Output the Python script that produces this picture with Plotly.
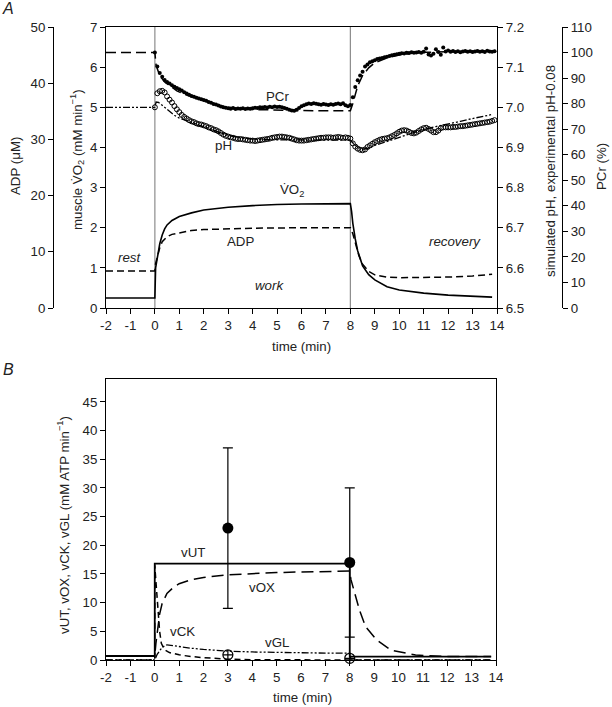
import plotly.graph_objects as go

# ---------------- Panel A data ----------------
# experimental PCr (%) and pH (experimental pH-0.08), sampled every 0.1 min from 0 to 13.9
t_exp = [round(0.1 * i, 1) for i in range(140)]
pcr_exp = [100, 94.5, 92.0, 90.5, 89.3, 88.5, 87.9, 87.2, 86.6, 86.1,
           85.6, 85.1, 84.5, 84.0, 83.5, 83.0, 82.7, 82.3, 82.0, 81.7,
           81.4, 81.1, 80.6, 80.3, 79.9, 79.7, 79.3, 78.9, 78.6, 78.4,
           78.2, 78.0, 78.3, 77.9, 78.1, 78.0, 78.2, 77.9, 78.1, 78.0,
           78.2, 78.4, 78.3, 78.6, 78.5, 78.7, 78.5, 78.8, 78.6, 78.9,
           78.7, 78.8, 78.6, 78.3, 78.0, 77.6, 77.3, 77.2, 77.6, 78.3,
           79.0, 79.4, 79.8, 80.1, 79.9, 80.2, 80.0, 79.8, 79.6, 79.9,
           79.7, 79.5, 79.8, 79.6, 79.9, 80.1, 79.8, 80.2, 79.4, 79.0,
           79.5, 82.5, 86.5, 89.2, 91.0, 92.5, 94.5, 95.3, 96.2, 96.6,
           97.0, 97.5, 97.7, 97.9, 98.2, 98.4, 98.6, 98.9, 99.1, 99.3,
           99.5, 99.7, 99.6, 99.9, 99.8, 100.1, 99.9, 100.0, 100.2, 99.9,
           100.3, 101.6, 99.2, 98.8, 99.5, 101.3, 100.2, 99.1, 102.0, 100.4,
           100.8, 100.3, 100.6, 100.2, 100.5, 100.1, 100.4, 100.6, 100.3, 100.5,
           100.2, 100.4, 100.6, 100.3, 100.5, 100.2, 100.7, 100.4, 100.3, 100.5]
ph_exp = [7.000, 7.035, 7.040, 7.041, 7.037, 7.027, 7.019, 7.012, 7.003, 6.995,
          6.988, 6.981, 6.976, 6.972, 6.968, 6.965, 6.963, 6.960, 6.958, 6.957,
          6.955, 6.953, 6.950, 6.948, 6.945, 6.943, 6.940, 6.936, 6.932, 6.929,
          6.927, 6.925, 6.924, 6.922, 6.921, 6.921, 6.920, 6.919, 6.918, 6.917,
          6.917, 6.916, 6.917, 6.918, 6.919, 6.920, 6.921, 6.922, 6.924, 6.925,
          6.926, 6.927, 6.927, 6.926, 6.925, 6.924, 6.922, 6.920, 6.918, 6.917,
          6.917, 6.917, 6.918, 6.919, 6.920, 6.921, 6.922, 6.923, 6.924, 6.924,
          6.925, 6.925, 6.925, 6.924, 6.925, 6.926, 6.925, 6.924, 6.925, 6.924,
          6.922, 6.910, 6.902, 6.897, 6.894, 6.893, 6.895, 6.901, 6.905, 6.909,
          6.913, 6.916, 6.919, 6.921, 6.922, 6.923, 6.925, 6.928, 6.931, 6.935,
          6.939, 6.942, 6.943, 6.942, 6.939, 6.936, 6.935, 6.937, 6.941, 6.945,
          6.948, 6.949, 6.946, 6.942, 6.938, 6.938, 6.942, 6.948, 6.950, 6.950,
          6.950, 6.950, 6.951, 6.951, 6.952, 6.953, 6.953, 6.954, 6.955, 6.956,
          6.957, 6.958, 6.959, 6.960, 6.961, 6.962, 6.963, 6.964, 6.966, 6.968]

# simulated curves
vo2_t = [-2, 0, 0.03, 0.1, 0.2, 0.3, 0.4, 0.5, 0.7, 1, 1.5, 2, 3, 4, 5, 6, 7, 8,
         8.05, 8.1, 8.2, 8.3, 8.5, 8.75, 9, 9.5, 10, 11, 12, 13, 13.8]
vo2_v = [0.25, 0.25, 1.0, 1.3, 1.6, 1.82, 1.97, 2.07, 2.18, 2.28, 2.37, 2.44, 2.51, 2.55, 2.58, 2.59, 2.6, 2.6,
         2.4, 2.11, 1.72, 1.42, 1.05, 0.83, 0.70, 0.53, 0.45, 0.37, 0.32, 0.29, 0.27]
adp_t = [-2, 0, 0.03, 0.1, 0.2, 0.3, 0.5, 0.7, 1, 1.5, 2, 3, 4, 5, 6, 7, 8,
         8.1, 8.2, 8.35, 8.5, 8.75, 9, 9.5, 10, 11, 12, 13, 13.8]
adp_v = [6.6, 6.6, 7.9, 9.3, 10.7, 11.8, 12.7, 13.1, 13.4, 13.8, 13.95, 14.1, 14.2, 14.25, 14.3, 14.3, 14.3,
         13.2, 11.8, 9.3, 7.8, 6.5, 5.9, 5.5, 5.4, 5.4, 5.5, 5.7, 6.0]
pcr_t = [-2, 0, 0.05, 0.2, 0.4, 0.6, 0.9, 1.2, 1.5, 2, 2.5, 3, 3.5, 4, 5, 6, 7, 8,
         8.1, 8.2, 8.3, 8.5, 8.75, 9, 9.5, 10, 10.5, 11, 12, 13, 13.9]
pcr_v = [100, 100, 95, 91, 88.5, 87, 85, 83.7, 82.7, 81, 79.6, 78.6, 78, 77.7, 77.4, 77.3, 77.2, 77.2,
         80, 84, 87, 91, 94, 96, 97.9, 99, 99.7, 100.1, 100.4, 100.5, 100.5]
ph_t = [-2, 0, 0.05, 0.15, 0.3, 0.5, 0.8, 1, 1.5, 2, 2.5, 3, 3.5, 4, 5, 6, 7, 8,
        8.2, 8.5, 8.75, 9, 9.5, 10, 10.5, 11, 11.5, 12, 12.5, 13, 13.8]
ph_v = [7.0, 7.0, 7.013, 7.012, 7.005, 6.995, 6.98, 6.973, 6.962, 6.952, 6.94, 6.93, 6.924, 6.921, 6.919,
        6.918, 6.918, 6.918, 6.905, 6.895, 6.898, 6.905, 6.915, 6.925, 6.935, 6.945, 6.952, 6.958, 6.965,
        6.972, 6.982]
phase_bounds = [0, 8]

# ---------------- Panel B data ----------------
vut_t = [-2, 0, 0, 8, 8, 13.8]
vut_v = [0.7, 0.7, 16.8, 16.8, 0.6, 0.6]
vox_t = [-2, 0, 0.05, 0.1, 0.2, 0.3, 0.5, 0.75, 1, 1.5, 2, 3, 4, 5, 6, 7, 8,
         8.05, 8.2, 8.4, 8.65, 9.1, 9.7, 10.7, 12, 13.8]
vox_v = [0.7, 0.7, 3, 5, 8, 9.8, 11.6, 12.6, 13.3, 14.0, 14.4, 14.85, 15.1, 15.25, 15.35, 15.45, 15.5,
         14, 11.7, 8.7, 5.8, 3.5, 1.7, 0.87, 0.6, 0.6]
vck_t = [-2, 0, 0, 0.04, 0.13, 0.2, 0.27, 0.4, 0.6, 1, 1.5, 2, 3, 4, 8, 13.8]
vck_v = [0, 0, 16.5, 14, 8.7, 5, 2.9, 1.8, 1.3, 0.9, 0.6, 0.4, 0.15, 0.05, 0, 0]
vgl_t = [-2, 0, 0.1, 0.3, 0.5, 0.8, 1, 1.5, 2, 3, 4, 5, 6, 7, 8, 8.05, 13.8]
vgl_v = [0, 0, 1.0, 2.2, 2.65, 2.45, 2.3, 2.05, 1.85, 1.55, 1.4, 1.3, 1.25, 1.2, 1.2, 0, 0]
meas_t = [3, 8]
meas_atp = [23, 17]
meas_atp_err = [14, 13]
meas_gl = [0.9, 0.3]

W, H = 612, 707
FONT = "Liberation Sans, Arial, sans-serif"
TXT = "#222222"
FS = 13.3

def px(x):
    return x / W

def py(y):
    return 1 - y / H

fig = go.Figure()

# Panel A traces
fig.add_trace(go.Scatter(x=vo2_t, y=vo2_v, mode="lines", line=dict(color="black", width=1.6),
                         xaxis="x", yaxis="y", showlegend=False))
fig.add_trace(go.Scatter(x=adp_t, y=adp_v, mode="lines", line=dict(color="black", width=1.5, dash="7px,4px"),
                         xaxis="x", yaxis="y2", showlegend=False))
fig.add_trace(go.Scatter(x=ph_t, y=ph_v, mode="lines",
                         line=dict(color="black", width=1.3, dash="7px,2px,2px,2px,2px,2px"),
                         xaxis="x", yaxis="y3", showlegend=False))
fig.add_trace(go.Scatter(x=pcr_t, y=pcr_v, mode="lines", line=dict(color="black", width=1.5, dash="10px,5px"),
                         xaxis="x", yaxis="y4", showlegend=False))
fig.add_trace(go.Scatter(x=t_exp, y=ph_exp, mode="markers",
                         marker=dict(symbol="circle-open", size=5, color="black", line=dict(width=1)),
                         xaxis="x", yaxis="y3", showlegend=False))
fig.add_trace(go.Scatter(x=t_exp, y=pcr_exp, mode="markers",
                         marker=dict(symbol="circle", size=4, color="black"),
                         xaxis="x", yaxis="y4", showlegend=False))

# Panel B traces
fig.add_trace(go.Scatter(x=vgl_t, y=vgl_v, mode="lines",
                         line=dict(color="black", width=1.3, dash="7px,2px,2px,2px,2px,2px"),
                         xaxis="x2", yaxis="y5", showlegend=False))
fig.add_trace(go.Scatter(x=vck_t, y=vck_v, mode="lines", line=dict(color="black", width=1.5, dash="6px,4px"),
                         xaxis="x2", yaxis="y5", showlegend=False))
fig.add_trace(go.Scatter(x=vox_t, y=vox_v, mode="lines", line=dict(color="black", width=1.5, dash="12px,6px"),
                         xaxis="x2", yaxis="y5", showlegend=False))
fig.add_trace(go.Scatter(x=vut_t, y=vut_v, mode="lines", line=dict(color="black", width=1.8),
                         xaxis="x2", yaxis="y5", showlegend=False))
fig.add_trace(go.Scatter(x=meas_t, y=meas_atp, mode="markers",
                         marker=dict(symbol="circle", size=11, color="black"),
                         error_y=dict(type="data", array=meas_atp_err, color="black", thickness=1.2, width=5),
                         xaxis="x2", yaxis="y5", showlegend=False))
fig.add_trace(go.Scatter(x=meas_t, y=meas_gl, mode="markers",
                         marker=dict(symbol="circle-cross-open", size=10, color="black", line=dict(width=1.2)),
                         xaxis="x2", yaxis="y5", showlegend=False, cliponaxis=False))

# gray phase lines in panel A
for b in phase_bounds:
    fig.add_shape(type="line", xref="x", yref="y domain", x0=b, x1=b, y0=0, y1=1,
                  line=dict(color="#8c8c8c", width=1.2), layer="below")

xticks = list(range(-2, 15))
xtext = [str(v) for v in xticks]
tickfont = dict(family=FONT, size=FS, color=TXT)
ax_common = dict(showgrid=False, zeroline=False, showline=True, linecolor="black", linewidth=1,
                 ticks="outside", ticklen=5, tickcolor="black", tickfont=tickfont, automargin=False)

xdomA = [px(106), px(497)]
ydomA = [py(308), py(27)]
xdomB = [px(106), px(496)]
ydomB = [py(660), py(379)]

fig.update_layout(
    width=W, height=H, margin=dict(l=0, r=0, t=0, b=0),
    paper_bgcolor="white", plot_bgcolor="white",
    font=dict(family=FONT, size=FS, color=TXT),
    xaxis=dict(domain=xdomA, range=[-2, 14], anchor="y", tickvals=xticks, ticktext=xtext, mirror=True, **ax_common),
    yaxis=dict(domain=ydomA, range=[0, 7], anchor="x", tickvals=list(range(0, 8)), **ax_common),
    yaxis2=dict(range=[0, 50], overlaying="y", anchor="free", position=px(53), side="left",
                tickvals=list(range(0, 51, 10)), **ax_common),
    yaxis3=dict(range=[6.5, 7.2], overlaying="y", anchor="x", side="right",
                tickvals=[6.5, 6.6, 6.7, 6.8, 6.9, 7.0, 7.1, 7.2],
                ticktext=["6.5", "6.6", "6.7", "6.8", "6.9", "7.0", "7.1", "7.2"], **ax_common),
    yaxis4=dict(range=[0, 110], overlaying="y", anchor="free", position=px(562), side="right",
                tickvals=list(range(0, 111, 10)), **ax_common),
    xaxis2=dict(domain=xdomB, range=[-2, 14], anchor="y5", tickvals=xticks, ticktext=xtext, mirror=True, **ax_common),
    yaxis5=dict(domain=ydomB, range=[0, 49], anchor="x2", tickvals=list(range(0, 46, 5)), mirror=True,
                **ax_common),
)

def ann(text, x, y, xref="paper", yref="paper", angle=0, size=FS, italic=False, xanchor="center"):
    fig.add_annotation(text=text, x=x, y=y, xref=xref, yref=yref, showarrow=False, textangle=angle,
                       xanchor=xanchor, yanchor="middle",
                       font=dict(family=FONT, size=size, color=TXT, style="italic" if italic else "normal"))

# axis titles
ann("ADP (\u03bcM)", px(15), py(166), angle=-90)
ann("muscle V\u0307O<sub>2</sub> (mM min<sup>\u22121</sup>)", px(77), py(160), angle=-90)
ann("simulated pH, experimental pH-0.08", px(550), py(171), angle=-90)
ann("PCr (%)", px(601), py(167), angle=-90)
ann("time (min)", px(301), py(346))
ann("vUT, vOX, vCK, vGL (mM ATP min<sup>\u22121</sup>)", px(63), py(525), angle=-90)
ann("time (min)", px(302), py(697))
ann("A", px(8), py(9), size=16, italic=True)
ann("B", px(8), py(369), size=16, italic=True)

# in-plot labels panel A (VO2 axis coordinates)
ann("PCr", 5.0, 5.26, xref="x", yref="y")
ann("pH", 2.8, 4.04, xref="x", yref="y")
ann("V\u0307O<sub>2</sub>", 5.6, 2.92, xref="x", yref="y")
ann("ADP", 3.5, 1.65, xref="x", yref="y")
ann("rest", -1.05, 1.25, xref="x", yref="y", italic=True)
ann("work", 4.7, 0.57, xref="x", yref="y", italic=True)
ann("recovery", 12.3, 1.65, xref="x", yref="y", italic=True)

# in-plot labels panel B
ann("vUT", 1.55, 18.7, xref="x2", yref="y5")
ann("vOX", 4.4, 12.6, xref="x2", yref="y5")
ann("vCK", 1.15, 4.9, xref="x2", yref="y5")
ann("vGL", 5.0, 3.0, xref="x2", yref="y5")

fig.write_html("out.html", config={"displayModeBar": False},
               post_script="document.body.style.margin='0px';document.body.style.overflow='hidden';")
